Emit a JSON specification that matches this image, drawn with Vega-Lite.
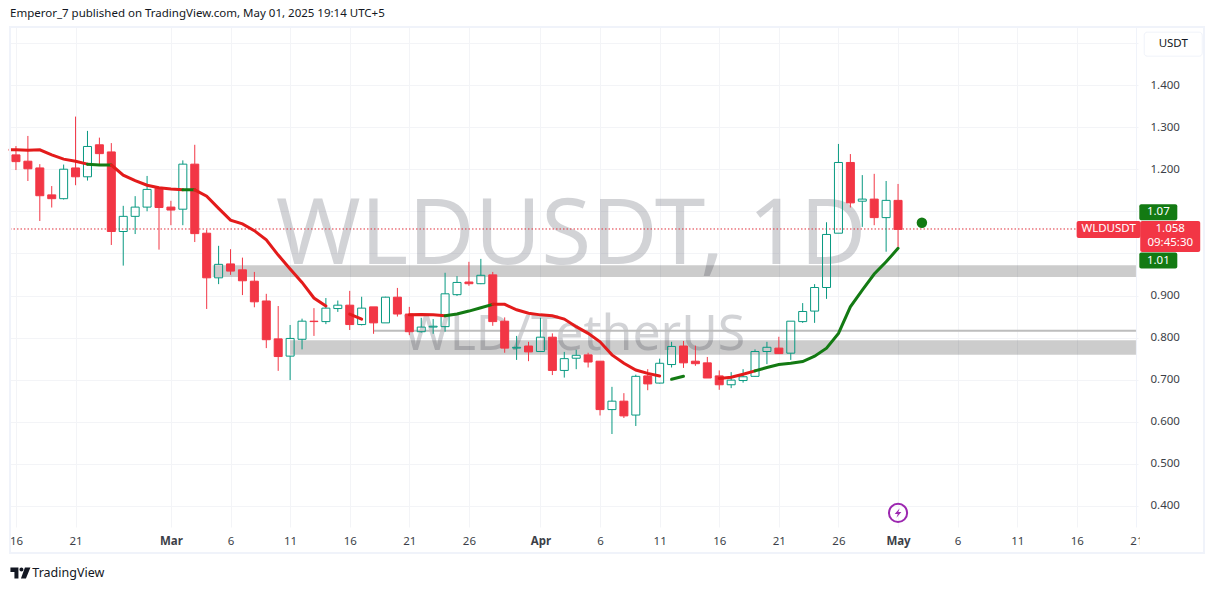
{"$schema":"https://vega.github.io/schema/vega-lite/v6.json","width":1128,"height":500,"autosize":{"type":"none"},"padding":{"left":10,"top":27,"right":77,"bottom":62},"background":"#ffffff","view":{"stroke":null},
"title":{"text":"Emperor_7 published on TradingView.com, May 01, 2025 19:14 UTC+5","anchor":"start","frame":"group","fontSize":11.5,"fontWeight":"normal","color":"#131722","font":"Noto Sans","offset":7},
"config":{"font":"Noto Sans","axis":{"title":null,"domain":false,"ticks":false,"grid":true,"gridColor":"#f3f4f7","gridWidth":1,"labelFont":"Noto Sans","labelFontSize":11.5,"labelColor":"#3c3f48"}},
"datasets":{
"candles":[
{"d":"2025-02-16","hi":1.255,"top":1.234,"bot":1.218,"lo":1.198,"dir":"down"},
{"d":"2025-02-17","hi":1.279,"top":1.219,"bot":1.201,"lo":1.172,"dir":"down"},
{"d":"2025-02-18","hi":1.212,"top":1.203,"bot":1.137,"lo":1.077,"dir":"down"},
{"d":"2025-02-19","hi":1.160,"top":1.139,"bot":1.130,"lo":1.109,"dir":"down"},
{"d":"2025-02-20","hi":1.211,"top":1.200,"bot":1.130,"lo":1.128,"dir":"up"},
{"d":"2025-02-21","hi":1.325,"top":1.203,"bot":1.182,"lo":1.162,"dir":"down"},
{"d":"2025-02-22","hi":1.291,"top":1.254,"bot":1.182,"lo":1.173,"dir":"up"},
{"d":"2025-02-23","hi":1.275,"top":1.258,"bot":1.237,"lo":1.210,"dir":"down"},
{"d":"2025-02-24","hi":1.262,"top":1.241,"bot":1.052,"lo":1.020,"dir":"down"},
{"d":"2025-02-25","hi":1.113,"top":1.088,"bot":1.052,"lo":0.971,"dir":"up"},
{"d":"2025-02-26","hi":1.136,"top":1.110,"bot":1.088,"lo":1.046,"dir":"up"},
{"d":"2025-02-27","hi":1.184,"top":1.152,"bot":1.110,"lo":1.100,"dir":"up"},
{"d":"2025-02-28","hi":1.157,"top":1.155,"bot":1.109,"lo":1.009,"dir":"down"},
{"d":"2025-03-01","hi":1.125,"top":1.110,"bot":1.103,"lo":1.067,"dir":"down"},
{"d":"2025-03-02","hi":1.221,"top":1.212,"bot":1.105,"lo":1.067,"dir":"up"},
{"d":"2025-03-03","hi":1.258,"top":1.212,"bot":1.047,"lo":1.027,"dir":"down"},
{"d":"2025-03-04","hi":1.056,"top":1.048,"bot":0.942,"lo":0.868,"dir":"down"},
{"d":"2025-03-05","hi":1.018,"top":0.974,"bot":0.942,"lo":0.927,"dir":"up"},
{"d":"2025-03-06","hi":1.010,"top":0.975,"bot":0.958,"lo":0.949,"dir":"down"},
{"d":"2025-03-07","hi":0.990,"top":0.961,"bot":0.935,"lo":0.901,"dir":"down"},
{"d":"2025-03-08","hi":0.956,"top":0.934,"bot":0.885,"lo":0.872,"dir":"down"},
{"d":"2025-03-09","hi":0.904,"top":0.887,"bot":0.795,"lo":0.775,"dir":"down"},
{"d":"2025-03-10","hi":0.875,"top":0.797,"bot":0.755,"lo":0.721,"dir":"down"},
{"d":"2025-03-11","hi":0.830,"top":0.798,"bot":0.756,"lo":0.699,"dir":"up"},
{"d":"2025-03-12","hi":0.845,"top":0.839,"bot":0.796,"lo":0.772,"dir":"up"},
{"d":"2025-03-13","hi":0.870,"top":0.839,"bot":0.838,"lo":0.804,"dir":"down"},
{"d":"2025-03-14","hi":0.894,"top":0.870,"bot":0.838,"lo":0.832,"dir":"up"},
{"d":"2025-03-15","hi":0.888,"top":0.877,"bot":0.869,"lo":0.861,"dir":"up"},
{"d":"2025-03-16","hi":0.911,"top":0.877,"bot":0.831,"lo":0.818,"dir":"down"},
{"d":"2025-03-17","hi":0.897,"top":0.870,"bot":0.831,"lo":0.829,"dir":"up"},
{"d":"2025-03-18","hi":0.873,"top":0.873,"bot":0.835,"lo":0.809,"dir":"down"},
{"d":"2025-03-19","hi":0.897,"top":0.896,"bot":0.835,"lo":0.835,"dir":"up"},
{"d":"2025-03-20","hi":0.918,"top":0.896,"bot":0.856,"lo":0.850,"dir":"down"},
{"d":"2025-03-21","hi":0.873,"top":0.856,"bot":0.814,"lo":0.806,"dir":"down"},
{"d":"2025-03-22","hi":0.847,"top":0.825,"bot":0.814,"lo":0.812,"dir":"up"},
{"d":"2025-03-23","hi":0.844,"top":0.827,"bot":0.825,"lo":0.809,"dir":"up"},
{"d":"2025-03-24","hi":0.954,"top":0.904,"bot":0.826,"lo":0.814,"dir":"up"},
{"d":"2025-03-25","hi":0.946,"top":0.931,"bot":0.902,"lo":0.899,"dir":"up"},
{"d":"2025-03-26","hi":0.980,"top":0.932,"bot":0.928,"lo":0.923,"dir":"down"},
{"d":"2025-03-27","hi":0.987,"top":0.948,"bot":0.928,"lo":0.927,"dir":"up"},
{"d":"2025-03-28","hi":0.956,"top":0.949,"bot":0.838,"lo":0.828,"dir":"down"},
{"d":"2025-03-29","hi":0.848,"top":0.839,"bot":0.775,"lo":0.764,"dir":"down"},
{"d":"2025-03-30","hi":0.804,"top":0.777,"bot":0.775,"lo":0.747,"dir":"up"},
{"d":"2025-03-31","hi":0.790,"top":0.780,"bot":0.766,"lo":0.744,"dir":"down"},
{"d":"2025-04-01","hi":0.847,"top":0.801,"bot":0.767,"lo":0.766,"dir":"up"},
{"d":"2025-04-02","hi":0.810,"top":0.801,"bot":0.722,"lo":0.711,"dir":"down"},
{"d":"2025-04-03","hi":0.766,"top":0.750,"bot":0.722,"lo":0.705,"dir":"up"},
{"d":"2025-04-04","hi":0.771,"top":0.758,"bot":0.751,"lo":0.725,"dir":"up"},
{"d":"2025-04-05","hi":0.764,"top":0.759,"bot":0.742,"lo":0.729,"dir":"down"},
{"d":"2025-04-06","hi":0.744,"top":0.744,"bot":0.629,"lo":0.615,"dir":"down"},
{"d":"2025-04-07","hi":0.683,"top":0.649,"bot":0.629,"lo":0.571,"dir":"up"},
{"d":"2025-04-08","hi":0.668,"top":0.649,"bot":0.614,"lo":0.609,"dir":"down"},
{"d":"2025-04-09","hi":0.712,"top":0.708,"bot":0.616,"lo":0.590,"dir":"up"},
{"d":"2025-04-10","hi":0.725,"top":0.709,"bot":0.690,"lo":0.675,"dir":"down"},
{"d":"2025-04-11","hi":0.750,"top":0.739,"bot":0.692,"lo":0.691,"dir":"up"},
{"d":"2025-04-12","hi":0.790,"top":0.779,"bot":0.736,"lo":0.729,"dir":"up"},
{"d":"2025-04-13","hi":0.792,"top":0.780,"bot":0.740,"lo":0.728,"dir":"down"},
{"d":"2025-04-14","hi":0.781,"top":0.744,"bot":0.738,"lo":0.733,"dir":"down"},
{"d":"2025-04-15","hi":0.754,"top":0.740,"bot":0.704,"lo":0.704,"dir":"down"},
{"d":"2025-04-16","hi":0.722,"top":0.709,"bot":0.688,"lo":0.676,"dir":"down"},
{"d":"2025-04-17","hi":0.718,"top":0.699,"bot":0.688,"lo":0.680,"dir":"up"},
{"d":"2025-04-18","hi":0.725,"top":0.707,"bot":0.698,"lo":0.693,"dir":"up"},
{"d":"2025-04-19","hi":0.772,"top":0.767,"bot":0.708,"lo":0.707,"dir":"up"},
{"d":"2025-04-20","hi":0.790,"top":0.777,"bot":0.767,"lo":0.737,"dir":"up"},
{"d":"2025-04-21","hi":0.802,"top":0.775,"bot":0.762,"lo":0.761,"dir":"down"},
{"d":"2025-04-22","hi":0.839,"top":0.839,"bot":0.763,"lo":0.747,"dir":"up"},
{"d":"2025-04-23","hi":0.882,"top":0.862,"bot":0.838,"lo":0.835,"dir":"up"},
{"d":"2025-04-24","hi":0.927,"top":0.919,"bot":0.863,"lo":0.835,"dir":"up"},
{"d":"2025-04-25","hi":1.074,"top":1.045,"bot":0.919,"lo":0.892,"dir":"up"},
{"d":"2025-04-26","hi":1.260,"top":1.216,"bot":1.048,"lo":1.048,"dir":"up"},
{"d":"2025-04-27","hi":1.236,"top":1.216,"bot":1.120,"lo":1.109,"dir":"down"},
{"d":"2025-04-28","hi":1.186,"top":1.129,"bot":1.124,"lo":1.063,"dir":"up"},
{"d":"2025-04-29","hi":1.189,"top":1.129,"bot":1.085,"lo":1.067,"dir":"down"},
{"d":"2025-04-30","hi":1.172,"top":1.126,"bot":1.085,"lo":1.004,"dir":"up"},
{"d":"2025-05-01","hi":1.165,"top":1.126,"bot":1.057,"lo":1.012,"dir":"down"}
],
"ma":[
{"d":"2025-02-15T12:00:00Z","p":1.246,"seg":1,"t":"r"},{"d":"2025-02-16","p":1.246,"seg":1,"t":"r"},{"d":"2025-02-17","p":1.245,"seg":1,"t":"r"},{"d":"2025-02-18","p":1.246,"seg":1,"t":"r"},{"d":"2025-02-19","p":1.234,"seg":1,"t":"r"},{"d":"2025-02-20","p":1.224,"seg":1,"t":"r"},{"d":"2025-02-21","p":1.219,"seg":1,"t":"r"},{"d":"2025-02-22","p":1.212,"seg":1,"t":"r"},
{"d":"2025-02-22","p":1.212,"seg":2,"t":"g"},{"d":"2025-02-23","p":1.210,"seg":2,"t":"g"},{"d":"2025-02-24","p":1.210,"seg":2,"t":"g"},
{"d":"2025-02-24","p":1.210,"seg":3,"t":"r"},{"d":"2025-02-25","p":1.186,"seg":3,"t":"r"},{"d":"2025-02-26","p":1.173,"seg":3,"t":"r"},{"d":"2025-02-27","p":1.162,"seg":3,"t":"r"},{"d":"2025-02-28","p":1.156,"seg":3,"t":"r"},{"d":"2025-03-01","p":1.153,"seg":3,"t":"r"},{"d":"2025-03-02","p":1.151,"seg":3,"t":"r"},
{"d":"2025-03-02","p":1.151,"seg":4,"t":"g"},{"d":"2025-03-03","p":1.151,"seg":4,"t":"g"},
{"d":"2025-03-03","p":1.151,"seg":5,"t":"r"},{"d":"2025-03-04","p":1.136,"seg":5,"t":"r"},{"d":"2025-03-05","p":1.107,"seg":5,"t":"r"},{"d":"2025-03-06","p":1.079,"seg":5,"t":"r"},{"d":"2025-03-07","p":1.070,"seg":5,"t":"r"},{"d":"2025-03-08","p":1.054,"seg":5,"t":"r"},{"d":"2025-03-09","p":1.032,"seg":5,"t":"r"},{"d":"2025-03-10","p":0.996,"seg":5,"t":"r"},{"d":"2025-03-11","p":0.963,"seg":5,"t":"r"},{"d":"2025-03-12","p":0.931,"seg":5,"t":"r"},{"d":"2025-03-13","p":0.894,"seg":5,"t":"r"},{"d":"2025-03-14","p":0.875,"seg":5,"t":"r"},
{"d":"2025-03-16","p":0.856,"seg":6,"t":"r"},{"d":"2025-03-17","p":0.844,"seg":6,"t":"r"},
{"d":"2025-03-21","p":0.854,"seg":7,"t":"r"},{"d":"2025-03-22","p":0.855,"seg":7,"t":"r"},{"d":"2025-03-23","p":0.854,"seg":7,"t":"r"},{"d":"2025-03-24","p":0.852,"seg":7,"t":"r"},
{"d":"2025-03-24","p":0.852,"seg":8,"t":"g"},{"d":"2025-03-25","p":0.856,"seg":8,"t":"g"},{"d":"2025-03-26","p":0.863,"seg":8,"t":"g"},{"d":"2025-03-27","p":0.871,"seg":8,"t":"g"},{"d":"2025-03-28","p":0.879,"seg":8,"t":"g"},
{"d":"2025-03-28","p":0.879,"seg":9,"t":"r"},{"d":"2025-03-29","p":0.879,"seg":9,"t":"r"},{"d":"2025-03-30","p":0.866,"seg":9,"t":"r"},{"d":"2025-03-31","p":0.858,"seg":9,"t":"r"},{"d":"2025-04-01","p":0.854,"seg":9,"t":"r"},{"d":"2025-04-02","p":0.852,"seg":9,"t":"r"},{"d":"2025-04-03","p":0.844,"seg":9,"t":"r"},{"d":"2025-04-04","p":0.826,"seg":9,"t":"r"},{"d":"2025-04-05","p":0.810,"seg":9,"t":"r"},{"d":"2025-04-06","p":0.790,"seg":9,"t":"r"},{"d":"2025-04-07","p":0.759,"seg":9,"t":"r"},{"d":"2025-04-08","p":0.739,"seg":9,"t":"r"},{"d":"2025-04-09","p":0.723,"seg":9,"t":"r"},{"d":"2025-04-10","p":0.715,"seg":9,"t":"r"},{"d":"2025-04-11","p":0.709,"seg":9,"t":"r"},
{"d":"2025-04-12","p":0.701,"seg":10,"t":"g"},{"d":"2025-04-13","p":0.708,"seg":10,"t":"g"},
{"d":"2025-04-16","p":0.703,"seg":11,"t":"r"},{"d":"2025-04-17","p":0.706,"seg":11,"t":"r"},{"d":"2025-04-18","p":0.713,"seg":11,"t":"r"},{"d":"2025-04-19","p":0.721,"seg":11,"t":"r"},
{"d":"2025-04-19","p":0.721,"seg":12,"t":"g"},{"d":"2025-04-20","p":0.729,"seg":12,"t":"g"},{"d":"2025-04-21","p":0.736,"seg":12,"t":"g"},{"d":"2025-04-22","p":0.739,"seg":12,"t":"g"},{"d":"2025-04-23","p":0.743,"seg":12,"t":"g"},{"d":"2025-04-24","p":0.756,"seg":12,"t":"g"},{"d":"2025-04-25","p":0.775,"seg":12,"t":"g"},{"d":"2025-04-26","p":0.810,"seg":12,"t":"g"},{"d":"2025-04-27","p":0.873,"seg":12,"t":"g"},{"d":"2025-04-28","p":0.913,"seg":12,"t":"g"},{"d":"2025-04-29","p":0.951,"seg":12,"t":"g"},{"d":"2025-04-30","p":0.980,"seg":12,"t":"g"},{"d":"2025-05-01","p":1.012,"seg":12,"t":"g"}
],
"zones":[
{"d":"2025-03-04T12:00:00Z","d2":"2025-05-21T01:00:00Z","p":0.972,"p2":0.944},
{"d":"2025-03-11","d2":"2025-05-21T01:00:00Z","p":0.794,"p2":0.759}
]
},
"encoding":{
"x":{"field":"d","type":"temporal","scale":{"type":"utc","domain":[1739620800000,1747796832000],"nice":false,"padding":0},
"axis":{"orient":"bottom","labelPadding":8,"labelFlush":false,"labelOverlap":false,"values":[1739664000000,1740096000000,1740787200000,1741219200000,1741651200000,1742083200000,1742515200000,1742947200000,1743465600000,1743897600000,1744329600000,1744761600000,1745193600000,1745625600000,1746057600000,1746489600000,1746921600000,1747353600000,1747785600000],
"labelExpr":"utcdate(datum.value)==1 ? utcFormat(datum.value,'%b') : utcFormat(datum.value,'%-d')",
"labelFontWeight":{"condition":{"test":"utcdate(datum.value)==1","value":"bold"},"value":"normal"}}},
"y":{"field":"p","type":"quantitative","scale":{"domain":[0.3501,1.5378],"nice":false,"zero":false,"padding":0},
"axis":{"orient":"right","labelPadding":12,"format":".3f","values":[0.4,0.5,0.6,0.7,0.8,0.9,1.0,1.1,1.2,1.3,1.4,1.5],"labelExpr":"(datum.value>1.45||(datum.value>0.95&&datum.value<1.15))?'':format(datum.value,'.3f')"}}
},
"layer":[
{"data":{"values":[{"d":"2025-04-03T14:00:00Z","p":1.040,"label":"WLDUSDT, 1D"}]},"mark":{"type":"text","fontSize":91,"font":"Noto Sans","color":"#787b86","opacity":0.33,"align":"center","baseline":"middle"},"encoding":{"text":{"field":"label"}}},
{"data":{"values":[{"d":"2025-04-03T20:00:00Z","p":0.806,"label":"WLD/TetherUS"}]},"mark":{"type":"text","fontSize":50,"font":"Noto Sans","color":"#787b86","opacity":0.33,"align":"center","baseline":"middle"},"encoding":{"text":{"field":"label"}}},
{"data":{"name":"zones"},"mark":{"type":"rect","color":"#000000","opacity":0.2},"encoding":{"x2":{"field":"d2"},"y2":{"field":"p2"}}},
{"data":{"values":[{"d":"2025-03-18","d2":"2025-05-21T01:00:00Z","p":0.816}]},"mark":{"type":"rule","color":"#bdbdbd","strokeWidth":2},"encoding":{"x2":{"field":"d2"}}},
{"data":{"values":[{"d":"2025-02-15T12:00:00Z","d2":"2025-05-21T01:00:00Z","p":1.058}]},"mark":{"type":"rule","color":"#e0303c","strokeWidth":1,"strokeDash":[1.5,2]},"encoding":{"x2":{"field":"d2"}}},
{"data":{"name":"candles"},"mark":{"type":"rule","strokeWidth":1},"encoding":{"y":{"field":"hi","type":"quantitative"},"y2":{"field":"top"},"stroke":{"field":"dir","scale":{"domain":["up","down"],"range":["#089981","#f23645"]},"legend":null}}},
{"data":{"name":"candles"},"mark":{"type":"rule","strokeWidth":1},"encoding":{"y":{"field":"bot","type":"quantitative"},"y2":{"field":"lo"},"stroke":{"field":"dir","scale":{"domain":["up","down"],"range":["#089981","#f23645"]},"legend":null}}},
{"data":{"name":"candles"},"mark":{"type":"bar","width":8,"strokeWidth":1},"encoding":{"y":{"field":"top","type":"quantitative"},"y2":{"field":"bot"},"fill":{"field":"dir","scale":{"domain":["up","down"],"range":["transparent","#f23645"]},"legend":null},"stroke":{"field":"dir","scale":{"domain":["up","down"],"range":["#089981","#f23645"]},"legend":null}}},
{"data":{"name":"ma"},"mark":{"type":"line","strokeWidth":3,"strokeCap":"round"},"encoding":{"detail":{"field":"seg"},"color":{"field":"t","scale":{"domain":["r","g"],"range":["#e31b1b","#137a13"]},"legend":null}}},
{"data":{"values":[{"d":"2025-05-03","p":1.073}]},"mark":{"type":"circle","size":110,"color":"#137a13","opacity":1}},
{"data":{"values":[{"d":"2025-05-01","p":0.3835}]},"mark":{"type":"point","size":330,"color":"#9c27b0","strokeWidth":2,"filled":false,"opacity":1}},
{"data":{"values":[{"d":"2025-05-01","p":0.3835}]},"mark":{"type":"point","size":90,"color":"#9c27b0","filled":true,"opacity":1,"shape":"M0.35,-1 L-0.7,0.2 H-0.05 L-0.35,1 L0.7,-0.2 H0.05 Z"}},
{"data":{"values":[{"d":"2025-02-15T12:00:00Z","d2":"2025-05-26T16:00:00Z","p":1.5378,"p2":0.2885}]},"mark":{"type":"rect","fill":"transparent","stroke":"#f0f3fa","strokeWidth":2},"encoding":{"x2":{"field":"d2"},"y2":{"field":"p2"}}},
{"data":{"values":[{"d":"2025-05-21T00:00:00Z","p":1.5378,"p2":0.3501}]},"mark":{"type":"rule","color":"#f0f3fa","strokeWidth":1},"encoding":{"y2":{"field":"p2"}}},
{"data":{"values":[{"d":"2025-05-24T02:00:00Z","p":1.497}]},"mark":{"type":"rect","width":58,"height":24,"fill":"#ffffff","stroke":"#f0f3fa","cornerRadius":3}},
{"data":{"values":[{"d":"2025-05-22T20:00:00Z","p":1.098},{"d":"2025-05-22T20:00:00Z","p":0.983}]},"mark":{"type":"rect","width":38,"height":16,"fill":"#137a13","cornerRadius":2}},
{"data":{"values":[{"d":"2025-05-23T20:00:00Z","p":1.040}]},"mark":{"type":"rect","width":60,"height":31,"fill":"#f23645","cornerRadius":2}},
{"data":{"values":[{"d":"2025-05-18T16:00:00Z","p":1.0568}]},"mark":{"type":"rect","width":64,"height":17,"fill":"#f23645","cornerRadius":2}},
{"data":{"values":[{"d":"2025-05-21T12:00:00Z","p":0.3175}]},"mark":{"type":"rect","width":5,"height":14,"fill":"#ffffff"}},
{"data":{"values":[
{"d":"2025-05-22T20:00:00Z","p":1.098,"label":"1.07"},{"d":"2025-05-22T20:00:00Z","p":0.983,"label":"1.01"},{"d":"2025-05-23T20:00:00Z","p":1.0575,"label":"1.058"},{"d":"2025-05-23T20:00:00Z","p":1.024,"label":"09:45:30"},{"d":"2025-05-18T16:00:00Z","p":1.0568,"label":"WLDUSDT"}]},"mark":{"type":"text","fontSize":11.5,"font":"Noto Sans","color":"#ffffff","align":"center","baseline":"middle"},"encoding":{"text":{"field":"label"}}},
{"data":{"values":[{"d":"2025-05-24T02:00:00Z","p":1.497,"label":"USDT"}]},"mark":{"type":"text","fontSize":11.5,"font":"Noto Sans","color":"#131722","align":"center","baseline":"middle"},"encoding":{"text":{"field":"label"}}},
{"data":{"values":[{"d":"2025-02-16T09:00:00Z","p":0.241}]},"mark":{"type":"point","size":400,"color":"#131722","filled":true,"opacity":1,"shape":"M-1,-0.55 H-0.2 V0.55 H-0.6 V-0.1 H-1 Z M0.1,-0.55 A0.2,0.2 0 1 1 0.1,-0.15 A0.2,0.2 0 1 1 0.1,-0.55 Z M0.45,-0.55 H1 L0.55,0.55 H0.05 Z"}},
{"data":{"values":[{"d":"2025-02-17T09:00:00Z","p":0.241,"label":"TradingView"}]},"mark":{"type":"text","fontSize":12.5,"font":"Noto Sans","color":"#131722","align":"left","baseline":"middle"},"encoding":{"text":{"field":"label"}}}
]}
